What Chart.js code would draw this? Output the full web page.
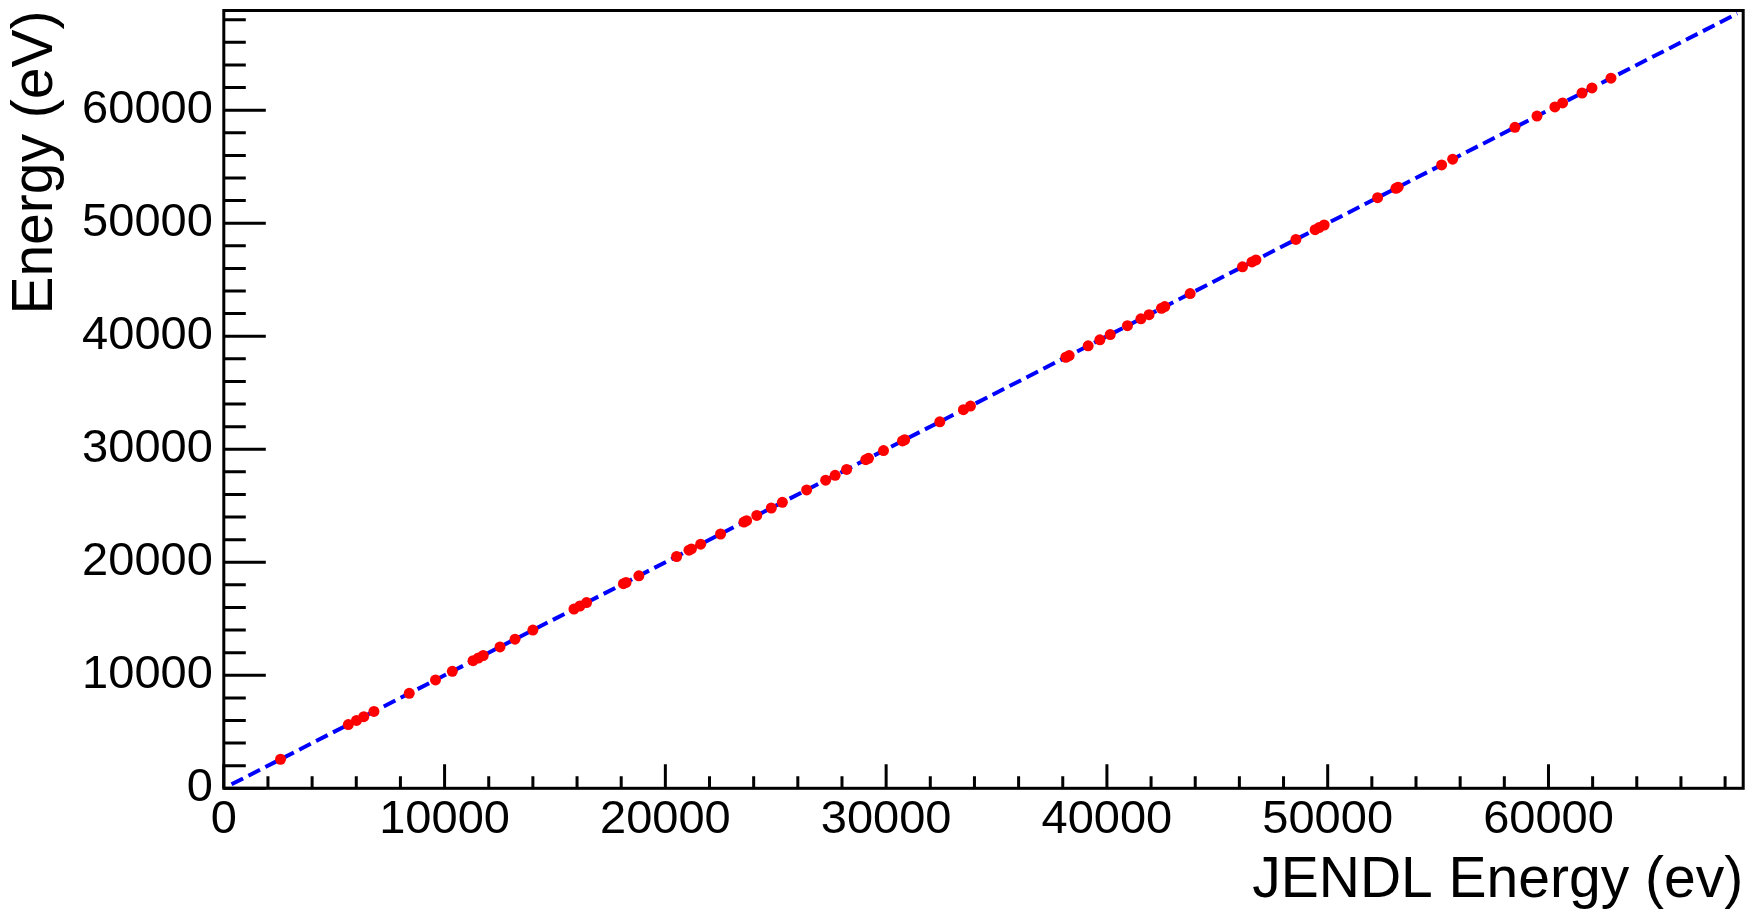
<!DOCTYPE html>
<html>
<head>
<meta charset="utf-8">
<title>JENDL Energy</title>
<script src="https://cdn.jsdelivr.net/npm/chart.js@4.4.1/dist/chart.umd.min.js"></script>
<style>
    html, body { margin: 0; padding: 0; background: #ffffff; }
    #wrap { width: 1756px; height: 915px; }
</style>
</head>
<body>
<div id="wrap"><canvas id="energyChart" width="1756" height="915"></canvas></div>
<script>
// Peak energies: JENDL reference value (x) against measured value (y), in eV
const jendlEnergy = [
    2570, 5640, 6010, 6340, 6800, 8400, 9590, 10350, 11290, 11530,
    11750, 12510, 13190, 14000, 15860, 16130, 16430, 18100, 18220, 18800,
    20510, 21070, 21180, 21600, 22500, 23560, 23680, 24140, 24800, 25300,
    26400, 27260, 27690, 28210, 29080, 29200, 29880, 30740, 30840, 32430,
    33500, 33820, 38140, 38290, 39150, 39680, 40150, 40930, 41540, 41910,
    42470, 42620, 43770, 46140, 46570, 46750, 48560, 49430, 49610, 49840,
    52260, 53090, 53190, 55160, 55660, 58480, 59480, 60290, 60640, 61520,
    61970, 62830
];
const measuredEnergy = [
    2570, 5640, 6010, 6340, 6800, 8400, 9590, 10350, 11290, 11530,
    11750, 12510, 13190, 14000, 15860, 16130, 16430, 18100, 18220, 18800,
    20510, 21070, 21180, 21600, 22500, 23560, 23680, 24140, 24800, 25300,
    26400, 27260, 27690, 28210, 29080, 29200, 29880, 30740, 30840, 32430,
    33500, 33820, 38140, 38290, 39150, 39680, 40150, 40930, 41540, 41910,
    42470, 42620, 43770, 46140, 46570, 46750, 48560, 49430, 49610, 49840,
    52260, 53090, 53190, 55160, 55660, 58480, 59480, 60290, 60640, 61520,
    61970, 62830
];

// Linear fit drawn between its two end points
const fitX = [350, 68550];
const fitY = [350, 68550];

// Labelled tick positions, shared by both axes
const tickValues = [0, 10000, 20000, 30000, 40000, 50000, 60000];

const AXIS_MAX = 68820;
const MAJOR_STEP = 10000;
const MINOR_STEP = 2000;

const FONT_FAMILY = "'Liberation Sans', Arial, Helvetica, sans-serif";

// Inward ticks on the left and bottom axes plus the closed frame
const frameTicks = {
    id: "frameTicks",
    beforeDatasetsDraw(chart) {
        const { ctx, chartArea: area, scales } = chart;
        ctx.save();
        ctx.strokeStyle = "#000000";
        ctx.lineWidth = 3;
        ctx.lineCap = "butt";
        ctx.beginPath();
        for (let v = 0; v <= AXIS_MAX; v += MINOR_STEP) {
            const major = v % MAJOR_STEP === 0;
            const px = scales.x.getPixelForValue(v);
            ctx.moveTo(px, area.bottom);
            ctx.lineTo(px, area.bottom - (major ? 24 : 12));
            const py = scales.y.getPixelForValue(v);
            ctx.moveTo(area.left, py);
            ctx.lineTo(area.left + (major ? 42 : 22), py);
        }
        ctx.stroke();
        ctx.strokeRect(area.left, area.top, area.right - area.left, area.bottom - area.top);
        ctx.restore();
    }
};

function pairs(xs, ys) {
    return xs.map((x, i) => ({ x, y: ys[i] }));
}

function fixedTicks(scale) {
    scale.ticks = tickValues.map((value) => ({ value }));
}

const tickFont = { family: FONT_FAMILY, size: 47 };

new Chart(document.getElementById("energyChart"), {
    type: "scatter",
    data: {
        datasets: [
            {
                label: "Measured",
                data: pairs(jendlEnergy, measuredEnergy),
                backgroundColor: "#ff0000",
                borderColor: "#ff0000",
                pointRadius: 5.5,
                pointBorderWidth: 0
            },
            {
                label: "Fit",
                type: "line",
                data: pairs(fitX, fitY),
                borderColor: "#0000ff",
                borderWidth: 4,
                borderDash: [13, 6],
                pointRadius: 0,
                fill: false
            }
        ]
    },
    options: {
        responsive: false,
        animation: false,
        layout: {
            padding: { top: 10.5, right: 12.8, left: 0, bottom: 0 }
        },
        plugins: {
            legend: { display: false },
            tooltip: { enabled: false }
        },
        scales: {
            x: {
                type: "linear",
                position: "bottom",
                min: 0,
                max: AXIS_MAX,
                afterBuildTicks: fixedTicks,
                grid: { display: false, drawTicks: false },
                border: { display: false },
                ticks: {
                    autoSkip: false,
                    maxRotation: 0,
                    padding: 4,
                    color: "#000000",
                    font: tickFont,
                    callback: (value) => String(value)
                },
                title: {
                    display: true,
                    text: "JENDL Energy (ev)",
                    align: "end",
                    color: "#000000",
                    font: { family: FONT_FAMILY, size: 57, lineHeight: 1.2 },
                    padding: { top: 0, bottom: 0 }
                },
                afterFit: (scale) => {
                    scale.height = 126.7;
                    scale.paddingLeft = 0;
                    scale.paddingRight = 0;
                }
            },
            y: {
                type: "linear",
                position: "left",
                min: 0,
                max: AXIS_MAX,
                afterBuildTicks: fixedTicks,
                grid: { display: false, drawTicks: false },
                border: { display: false },
                ticks: {
                    autoSkip: false,
                    padding: 11,
                    color: "#000000",
                    font: tickFont,
                    callback: (value) => String(value)
                },
                title: {
                    display: true,
                    text: "Energy (eV)",
                    align: "end",
                    color: "#000000",
                    font: { family: FONT_FAMILY, size: 57, lineHeight: 1.2 },
                    padding: { top: 2, bottom: 0 }
                },
                afterFit: (scale) => {
                    scale.width = 223.8;
                    scale.paddingTop = 0;
                    scale.paddingBottom = 0;
                }
            }
        }
    },
    plugins: [frameTicks]
});
</script>
</body>
</html>
